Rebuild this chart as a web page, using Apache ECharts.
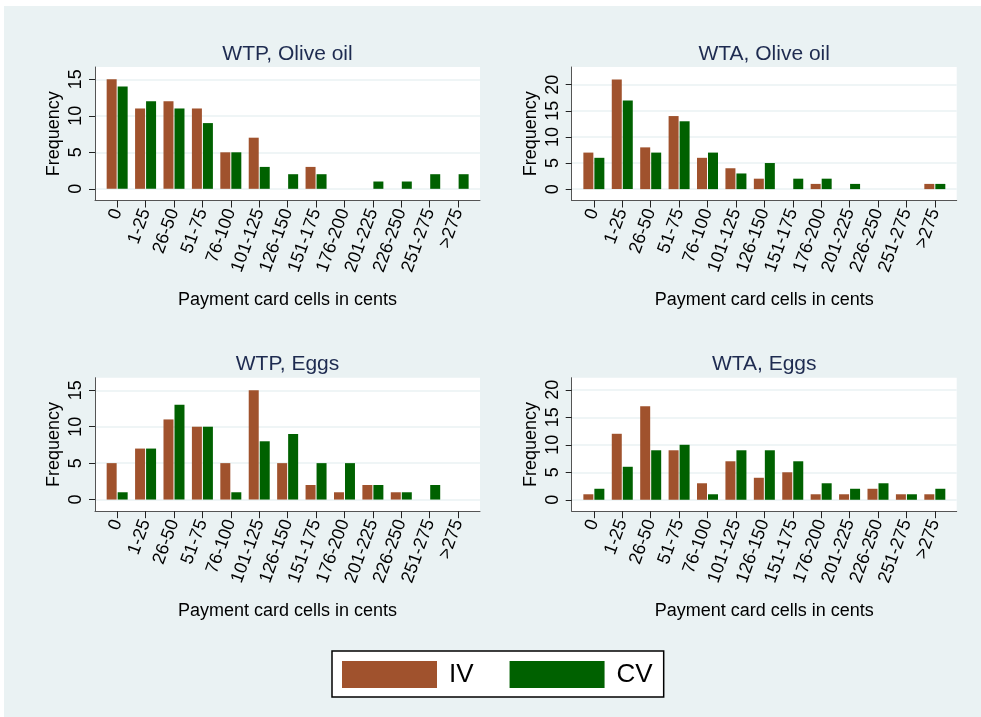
<!DOCTYPE html>
<html>
<head>
<meta charset="utf-8">
<script src="https://cdn.jsdelivr.net/npm/echarts@6/dist/echarts.min.js"></script>
<style>
  html, body { margin: 0; padding: 0; background: #fff; }
  #chart { width: 981px; height: 717px; }
</style>
</head>
<body>
<div id="chart"></div>
<script>
// payment card cells (x categories)
const cells = ['0', '1-25', '26-50', '51-75', '76-100', '101-125', '126-150',
  '151-175', '176-200', '201-225', '226-250', '251-275', '>275'];

// frequencies
const wtpOliveIV = [15, 11, 12, 11, 5, 7, 0, 3, 0, 0, 0, 0, 0];
const wtpOliveCV = [14, 12, 11, 9, 5, 3, 2, 2, 0, 1, 1, 2, 2];
const wtaOliveIV = [7, 21, 8, 14, 6, 4, 2, 0, 1, 0, 0, 0, 1];
const wtaOliveCV = [6, 17, 7, 13, 7, 3, 5, 2, 2, 1, 0, 0, 1];
const wtpEggsIV = [5, 7, 11, 10, 5, 15, 5, 2, 1, 2, 1, 0, 0];
const wtpEggsCV = [1, 7, 13, 10, 1, 8, 9, 5, 5, 2, 1, 2, 0];
const wtaEggsIV = [1, 12, 17, 9, 3, 7, 4, 5, 1, 1, 2, 1, 1];
const wtaEggsCV = [2, 6, 9, 10, 1, 9, 9, 7, 3, 2, 3, 1, 2];

// y tick labels
const ticks15 = [0, 5, 10, 15];
const ticks20 = [0, 5, 10, 15, 20];

const ivColor = '#a0522d';
const cvColor = '#006100';
const titleColor = '#1e2b50';
const font = 'Liberation Sans, Arial, sans-serif';

const panels = [
  { title: 'WTP, Olive oil', iv: wtpOliveIV, cv: wtpOliveCV, ticks: ticks15,
    left: 95, top: 67, ymin: -1.6, ymax: 16.68 },
  { title: 'WTA, Olive oil', iv: wtaOliveIV, cv: wtaOliveCV, ticks: ticks20,
    left: 571.7, top: 67, ymin: -2.18, ymax: 23.4 },
  { title: 'WTP, Eggs', iv: wtpEggsIV, cv: wtpEggsCV, ticks: ticks15,
    left: 95, top: 377.7, ymin: -1.6, ymax: 16.73 },
  { title: 'WTA, Eggs', iv: wtaEggsIV, cv: wtaEggsCV, ticks: ticks20,
    left: 571.7, top: 377.7, ymin: -2.08, ymax: 22.2 }
];
const gridW = 385, gridH = 133.5;
const idx = cells.map((c, i) => i);

const chart = echarts.init(document.getElementById('chart'));

const option = {
  animation: false,
  backgroundColor: '#fff',
  textStyle: { fontFamily: font },
  graphic: [{
    type: 'rect', z: -1, silent: true,
    shape: { x: 4, y: 6, width: 977, height: 711 },
    style: { fill: '#eaf2f3' }
  }],
  title: panels.map(p => ({
    text: p.title,
    left: p.left + gridW / 2,
    top: p.top - 24,
    textAlign: 'center',
    padding: 0,
    textStyle: { fontFamily: font, fontSize: 21, lineHeight: 22, fontWeight: 'normal', color: titleColor }
  })),
  legend: {
    left: 332, top: 651,
    padding: [10, 11, 9, 10],
    itemWidth: 95, itemHeight: 27, itemGap: 36,
    icon: 'rect',
    backgroundColor: '#fff',
    borderColor: '#000', borderWidth: 1.5,
    textStyle: { fontFamily: font, fontSize: 26, color: '#000', padding: [0, 0, 0, 7] },
    data: ['IV', 'CV']
  },
  grid: panels.map(p => ({
    left: p.left, top: p.top, width: gridW, height: gridH,
    show: true, backgroundColor: '#fff', borderWidth: 0
  })),
  xAxis: panels.map((p, i) => ({
    type: 'value', gridIndex: i,
    min: -0.78, max: 12.77,
    name: 'Payment card cells in cents',
    nameLocation: 'middle', nameGap: 91,
    nameTextStyle: { fontFamily: font, fontSize: 18, color: '#000' },
    axisLine: { onZero: false, lineStyle: { color: '#555', width: 1 } },
    axisTick: { customValues: idx, length: 7, lineStyle: { color: '#222' } },
    axisLabel: {
      customValues: idx,
      formatter: v => cells[v],
      rotate: 70, margin: 9,
      fontFamily: font, fontSize: 18, color: '#000'
    },
    splitLine: { show: false }
  })),
  yAxis: panels.map((p, i) => ({
    type: 'value', gridIndex: i,
    min: p.ymin, max: p.ymax,
    name: 'Frequency',
    nameLocation: 'middle', nameGap: 32,
    nameTextStyle: { fontFamily: font, fontSize: 18, color: '#000' },
    axisLine: { show: true, onZero: false, lineStyle: { color: '#555', width: 1 } },
    axisTick: { show: true, customValues: p.ticks, length: 6, lineStyle: { color: '#222' } },
    axisLabel: {
      customValues: p.ticks,
      rotate: 90, margin: 10,
      fontFamily: font, fontSize: 18, color: '#000'
    },
    splitLine: { show: true, lineStyle: { color: '#eaf2f3', width: 1.5 } }
  })),
  series: []
};

panels.forEach((p, i) => {
  option.series.push({
    name: 'IV', type: 'bar', xAxisIndex: i, yAxisIndex: i,
    barWidth: 10, barGap: '10%',
    itemStyle: { color: ivColor },
    data: p.iv.map((v, j) => [j, v])
  });
  option.series.push({
    name: 'CV', type: 'bar', xAxisIndex: i, yAxisIndex: i,
    barWidth: 10, barGap: '10%',
    itemStyle: { color: cvColor },
    data: p.cv.map((v, j) => [j, v])
  });
});

chart.setOption(option);
</script>
</body>
</html>
